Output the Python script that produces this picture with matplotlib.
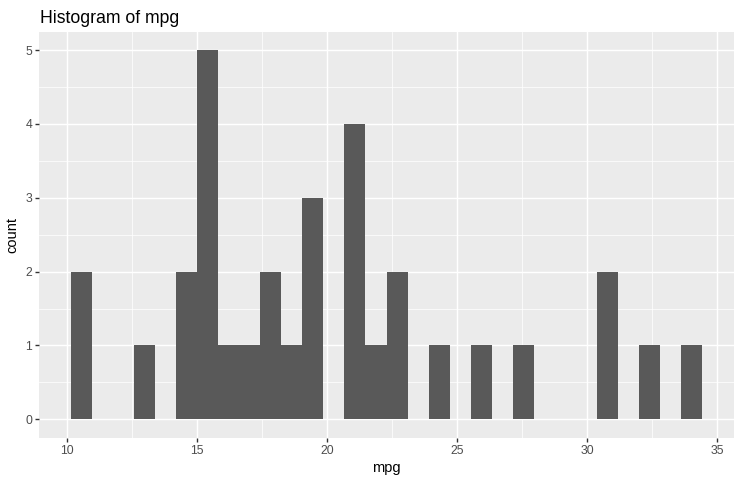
import matplotlib
matplotlib.use("Agg")
import matplotlib.pyplot as plt
import numpy as np

plt.rcParams['font.family'] = ['Liberation Sans', 'DejaVu Sans']

# Histogram data (30 bins)
bin_start = 10.129
bin_width = 0.8103
counts = [2, 0, 0, 1, 0, 2, 5, 1, 1, 2, 1, 3, 0, 4, 1, 2, 0, 1, 0, 1,
          0, 1, 0, 0, 0, 2, 0, 1, 0, 1]
x_ticks = [10, 15, 20, 25, 30, 35]
y_ticks = [0, 1, 2, 3, 4, 5]
title = "Histogram of mpg"
xlabel = "mpg"
ylabel = "count"

W, H = 742, 484
fig = plt.figure(figsize=(W / 100, H / 100), dpi=100)
ax = fig.add_axes([39 / W, (H - 437.7) / H, (734 - 39) / W, (437.7 - 31.7) / H])

edges = bin_start + bin_width * np.arange(len(counts) + 1)
ax.stairs(counts, edges, fill=True, color='#595959', linewidth=0, zorder=3)

xmin, xmax = edges[0], edges[-1]
xr = xmax - xmin
ax.set_xlim(xmin - 0.05 * xr, xmax + 0.05 * xr)
ymax = max(counts)
ax.set_ylim(-0.05 * ymax, ymax * 1.05)

ax.set_facecolor('#EBEBEB')
for s in ax.spines.values():
    s.set_visible(False)

ax.set_xticks(x_ticks)
ax.set_yticks(y_ticks)
ax.set_xticks([12.5, 17.5, 22.5, 27.5, 32.5], minor=True)
ax.set_yticks([0.5, 1.5, 2.5, 3.5, 4.5], minor=True)
ax.grid(which='major', color='white', linewidth=1.05, zorder=1)
ax.grid(which='minor', color='white', linewidth=0.52, zorder=1)
ax.set_axisbelow(True)

ax.tick_params(which='major', length=2.7, width=1.0, color='#333333',
               labelcolor='#4D4D4D', labelsize=8.8, pad=2.2)
ax.tick_params(which='minor', length=0)

ax.set_xlabel(xlabel, fontsize=10.56, color='black', labelpad=3.5)
ax.set_ylabel(ylabel, fontsize=10.56, color='black', labelpad=4)

fig.text(40 / W, 1 - 22.7 / H, title, fontsize=12.7, color='black',
         ha='left', va='baseline')

fig.savefig('out.png', dpi=100)
